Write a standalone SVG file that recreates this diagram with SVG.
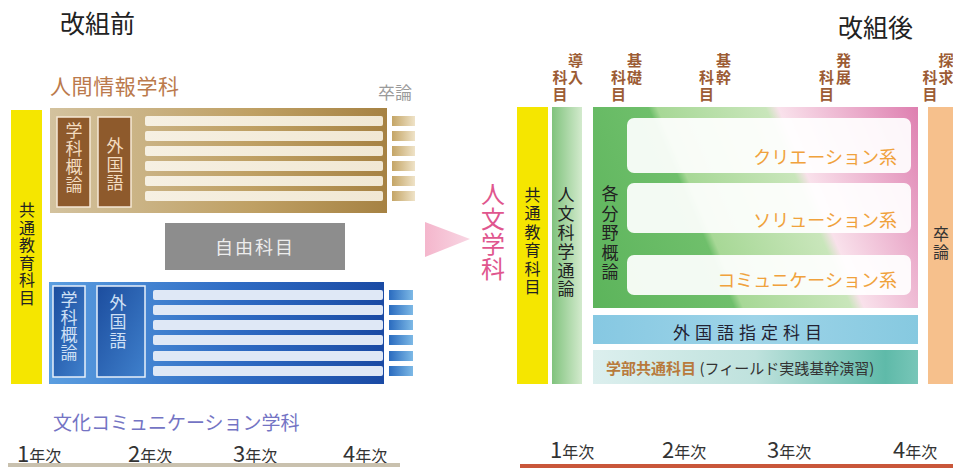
<svg xmlns="http://www.w3.org/2000/svg" width="953" height="468" viewBox="0 0 953 468">
<defs>
  <linearGradient id="gBrown" x1="0" y1="0" x2="1" y2="0">
    <stop offset="0" stop-color="#d3c29e"/>
    <stop offset="0.6" stop-color="#bfa064"/>
    <stop offset="1" stop-color="#a68243"/>
  </linearGradient>
  <linearGradient id="gBrownSq" x1="0" y1="0" x2="1" y2="0">
    <stop offset="0" stop-color="#c4a566"/>
    <stop offset="1" stop-color="#efe3c8"/>
  </linearGradient>
  <linearGradient id="gCream" x1="0" y1="0" x2="1" y2="0">
    <stop offset="0" stop-color="#f6f0e2"/>
    <stop offset="1" stop-color="#f1e8d4"/>
  </linearGradient>
  <linearGradient id="gBlue" x1="0" y1="0" x2="1" y2="0">
    <stop offset="0" stop-color="#5b9ee0"/>
    <stop offset="0.55" stop-color="#2f6cc4"/>
    <stop offset="1" stop-color="#1a4aa4"/>
  </linearGradient>
  <linearGradient id="gBlueIn" x1="0" y1="0" x2="1" y2="1">
    <stop offset="0" stop-color="#1c4d9e"/>
    <stop offset="1" stop-color="#3f80cc"/>
  </linearGradient>
  <linearGradient id="gBlueSq" x1="0" y1="0" x2="1" y2="0">
    <stop offset="0" stop-color="#2a6bbf"/>
    <stop offset="1" stop-color="#7db9e6"/>
  </linearGradient>
  <linearGradient id="gPink" x1="0" y1="0" x2="1" y2="0">
    <stop offset="0" stop-color="#f4b6cc"/>
    <stop offset="1" stop-color="#f8d6e3"/>
  </linearGradient>
  <linearGradient id="gJinbun" x1="0" y1="0" x2="1" y2="0">
    <stop offset="0" stop-color="#80c37d"/>
    <stop offset="1" stop-color="#d3eacd"/>
  </linearGradient>
  <linearGradient id="gMain" gradientUnits="userSpaceOnUse" x1="507" y1="107" x2="853.9" y2="-42.2">
    <stop offset="0" stop-color="#5cb45b"/>
    <stop offset="0.343" stop-color="#6fbf6b"/>
    <stop offset="0.365" stop-color="#a7d896"/>
    <stop offset="0.628" stop-color="#c9e6bb"/>
    <stop offset="0.659" stop-color="#f9e1eb"/>
    <stop offset="1" stop-color="#de7fb0"/>
  </linearGradient>
  <linearGradient id="gTeal" x1="0" y1="0" x2="1" y2="0">
    <stop offset="0" stop-color="#dcefee"/>
    <stop offset="0.5" stop-color="#bfe2dd"/>
    <stop offset="0.9" stop-color="#5fbaa9"/>
    <stop offset="1" stop-color="#78c6b8"/>
  </linearGradient>
  <linearGradient id="gSky" x1="0" y1="0" x2="1" y2="0">
    <stop offset="0" stop-color="#86c8e2"/>
    <stop offset="0.5" stop-color="#9ed4e8"/>
    <stop offset="1" stop-color="#86c9e0"/>
  </linearGradient>
</defs>
<style>
  text { font-family: "Noto Sans CJK JP", "Noto Sans", sans-serif; }
  .v { text-anchor: middle; }
  .title { font-size: 25px; fill: #222; }
  .hd { font-size: 15px; font-weight: bold; fill: #9c5c34; text-anchor: middle; }
  .yr { fill: #333; }
  .stB { fill: url(#gCream); }
  .sqB { fill: url(#gBrownSq); }
  .stL { fill: #dfe8f6; }
  .sqL { fill: url(#gBlueSq); }
  .wbox { fill: #ffffff; fill-opacity: 0.92; }
  .kei { font-size: 18px; fill: #f0a23c; text-anchor: end; }
</style>
<rect width="953" height="468" fill="#ffffff"/>

<!-- BEFORE -->
<g id="title-before"><text class="title" x="60" y="33">改組前</text></g>

<g id="kyotsu-before">
  <rect x="11" y="110" width="31" height="274" fill="#f5e600"/>
  <text class="v" font-size="16" fill="#222">
    <tspan x="27" y="216">共</tspan><tspan x="27" y="233.6">通</tspan><tspan x="27" y="251.2">教</tspan><tspan x="27" y="268.8">育</tspan><tspan x="27" y="286.4">科</tspan><tspan x="27" y="304">目</tspan>
  </text>
</g>

<g id="ningen-joho">
  <text x="50" y="94" font-size="21" letter-spacing="0.6" fill="#bb7a4c">人間情報学科</text>
  <rect x="50" y="108" width="337" height="105" fill="url(#gBrown)"/>
  <rect x="57" y="117" width="33" height="90" fill="#8e5a2c" stroke="#f6e9d6" stroke-width="1.5"/>
  <text class="v" font-size="17" fill="#f3dcc0">
    <tspan x="74" y="137">学</tspan><tspan x="74" y="155">科</tspan><tspan x="74" y="173">概</tspan><tspan x="74" y="191">論</tspan>
  </text>
  <rect x="98" y="117" width="33" height="90" fill="#8e5a2c" stroke="#f6e9d6" stroke-width="1.5"/>
  <text class="v" font-size="17" fill="#f3dcc0">
    <tspan x="115" y="152">外</tspan><tspan x="115" y="171">国</tspan><tspan x="115" y="189">語</tspan>
  </text>
  <rect class="stB" x="145" y="116" width="238" height="10" rx="2"/>
  <rect class="stB" x="145" y="131" width="238" height="10" rx="2"/>
  <rect class="stB" x="145" y="146" width="238" height="10" rx="2"/>
  <rect class="stB" x="145" y="161" width="238" height="10" rx="2"/>
  <rect class="stB" x="145" y="176" width="238" height="10" rx="2"/>
  <rect class="stB" x="145" y="191" width="238" height="10" rx="2"/>
</g>

<g id="sotsuron-before">
  <text x="378" y="99" font-size="17" fill="#9a9a9a">卒論</text>
  <rect class="sqB" x="392" y="116" width="23" height="10"/>
  <rect class="sqB" x="392" y="131" width="23" height="10"/>
  <rect class="sqB" x="392" y="146" width="23" height="10"/>
  <rect class="sqB" x="392" y="161" width="23" height="10"/>
  <rect class="sqB" x="392" y="176" width="23" height="10"/>
  <rect class="sqB" x="392" y="191" width="23" height="10"/>
  <rect class="sqL" x="389" y="290" width="24" height="10"/>
  <rect class="sqL" x="389" y="305" width="24" height="10"/>
  <rect class="sqL" x="389" y="320" width="24" height="10"/>
  <rect class="sqL" x="389" y="335" width="24" height="10"/>
  <rect class="sqL" x="389" y="351" width="24" height="10"/>
  <rect class="sqL" x="389" y="366" width="24" height="10"/>
</g>

<g id="jiyu-kamoku">
  <rect x="165" y="223" width="180" height="47" fill="#8d8d8d"/>
  <text x="255" y="254" font-size="18" letter-spacing="2" text-anchor="middle" fill="#ececec">自由科目</text>
</g>

<g id="bunka-comm">
  <rect x="49" y="282" width="335" height="102" fill="url(#gBlue)"/>
  <rect x="53" y="286" width="32" height="91" fill="url(#gBlueIn)" stroke="#e8f0fa" stroke-width="1.5"/>
  <text class="v" font-size="17" fill="#cfe0f5">
    <tspan x="69" y="306">学</tspan><tspan x="69" y="323.5">科</tspan><tspan x="69" y="341">概</tspan><tspan x="69" y="358.5">論</tspan>
  </text>
  <rect x="97" y="286" width="48" height="91" fill="url(#gBlueIn)" stroke="#e8f0fa" stroke-width="1.5"/>
  <text class="v" font-size="17" fill="#cfe0f5">
    <tspan x="118" y="309">外</tspan><tspan x="118" y="328">国</tspan><tspan x="118" y="347">語</tspan>
  </text>
  <rect class="stL" x="153" y="290" width="230" height="10" rx="2"/>
  <rect class="stL" x="153" y="305" width="230" height="10" rx="2"/>
  <rect class="stL" x="153" y="320" width="230" height="10" rx="2"/>
  <rect class="stL" x="153" y="335" width="230" height="10" rx="2"/>
  <rect class="stL" x="153" y="351" width="230" height="10" rx="2"/>
  <rect class="stL" x="153" y="366" width="230" height="10" rx="2"/>
  <text x="53" y="430" font-size="19" fill="#7474c4">文化コミュニケーション学科</text>
</g>

<g id="years-before">
  <text class="yr" x="17" y="462"><tspan font-size="22">1</tspan><tspan font-size="16">年次</tspan></text>
  <text class="yr" x="128" y="462"><tspan font-size="22">2</tspan><tspan font-size="16">年次</tspan></text>
  <text class="yr" x="233" y="462"><tspan font-size="22">3</tspan><tspan font-size="16">年次</tspan></text>
  <text class="yr" x="343" y="462"><tspan font-size="22">4</tspan><tspan font-size="16">年次</tspan></text>
  <rect x="8" y="463" width="392" height="4" fill="#c9c1ae"/>
</g>

<!-- CONNECTOR -->
<g id="connectors">
  <polygon points="425,222 470,239 425,257" fill="url(#gPink)"/>
</g>

<!-- AFTER -->
<g id="title-after"><text class="title" x="838" y="37">改組後</text></g>

<g id="jinbun-gakka">
  <text class="v" font-size="24" fill="#e0568e">
    <tspan x="493" y="203">人</tspan><tspan x="493" y="228">文</tspan><tspan x="493" y="253">学</tspan><tspan x="493" y="278">科</tspan>
  </text>
</g>

<g id="headers">
  <text class="hd"><tspan x="575.5" y="66">導</tspan><tspan x="575.5" y="83">入</tspan><tspan x="560" y="83">科</tspan><tspan x="560" y="100">目</tspan></text>
  <text class="hd"><tspan x="634.5" y="66">基</tspan><tspan x="634.5" y="83">礎</tspan><tspan x="618.5" y="83">科</tspan><tspan x="618.5" y="100">目</tspan></text>
  <text class="hd"><tspan x="723.5" y="66">基</tspan><tspan x="723.5" y="83">幹</tspan><tspan x="706.5" y="83">科</tspan><tspan x="706.5" y="100">目</tspan></text>
  <text class="hd"><tspan x="843.5" y="66">発</tspan><tspan x="843.5" y="83">展</tspan><tspan x="826.5" y="83">科</tspan><tspan x="826.5" y="100">目</tspan></text>
  <text class="hd"><tspan x="946" y="66">探</tspan><tspan x="946" y="83">求</tspan><tspan x="930" y="83">科</tspan><tspan x="930" y="100">目</tspan></text>
</g>

<g id="kyotsu-after">
  <rect x="517" y="107" width="31" height="277" fill="#f5e600"/>
  <text class="v" font-size="16" fill="#222">
    <tspan x="532.5" y="201">共</tspan><tspan x="532.5" y="219.4">通</tspan><tspan x="532.5" y="237.8">教</tspan><tspan x="532.5" y="256.2">育</tspan><tspan x="532.5" y="274.6">科</tspan><tspan x="532.5" y="293">目</tspan>
  </text>
</g>

<g id="jinbun-tsuron">
  <rect x="552" y="107" width="30" height="277" fill="url(#gJinbun)"/>
  <text class="v" font-size="17" fill="#222">
    <tspan x="566" y="201">人</tspan><tspan x="566" y="220">文</tspan><tspan x="566" y="239">科</tspan><tspan x="566" y="258">学</tspan><tspan x="566" y="277">通</tspan><tspan x="566" y="295">論</tspan>
  </text>
</g>

<g id="senmon">
  <rect x="593" y="107" width="325" height="201" fill="url(#gMain)"/>
  <text class="v" font-size="17" fill="#222">
    <tspan x="610" y="200">各</tspan><tspan x="610" y="219.5">分</tspan><tspan x="610" y="239">野</tspan><tspan x="610" y="258.5">概</tspan><tspan x="610" y="278">論</tspan>
  </text>
</g>

<g id="creation">
  <rect class="wbox" x="627" y="118" width="284" height="55" rx="7"/>
  <text class="kei" x="897" y="164">クリエーション系</text>
</g>
<g id="solution">
  <rect class="wbox" x="627" y="183" width="284" height="50" rx="7"/>
  <text class="kei" x="897" y="227">ソリューション系</text>
</g>
<g id="communication">
  <rect class="wbox" x="627" y="255" width="284" height="40" rx="7"/>
  <text class="kei" x="897" y="287">コミュニケーション系</text>
</g>

<g id="gaikokugo-shitei">
  <rect x="593" y="315" width="325" height="29" fill="url(#gSky)"/>
  <text x="750" y="339" font-size="17" letter-spacing="5" text-anchor="middle" fill="#223">外国語指定科目</text>
</g>

<g id="gakubu-kyotsu">
  <rect x="593" y="350" width="325" height="34" fill="url(#gTeal)"/>
  <text x="606" y="374"><tspan font-size="15" font-weight="bold" fill="#b87a3c">学部共通科目</tspan><tspan font-size="15" fill="#333"> (フィールド実践基幹演習)</tspan></text>
</g>

<g id="sotsuron-after">
  <rect x="928" y="107" width="25" height="277" fill="#f6c08c"/>
  <text class="v" font-size="16" fill="#333">
    <tspan x="941" y="240">卒</tspan><tspan x="941" y="258">論</tspan>
  </text>
</g>

<g id="years-after">
  <text class="yr" x="550" y="458"><tspan font-size="22">1</tspan><tspan font-size="16">年次</tspan></text>
  <text class="yr" x="662" y="458"><tspan font-size="22">2</tspan><tspan font-size="16">年次</tspan></text>
  <text class="yr" x="767" y="458"><tspan font-size="22">3</tspan><tspan font-size="16">年次</tspan></text>
  <text class="yr" x="893" y="458"><tspan font-size="22">4</tspan><tspan font-size="16">年次</tspan></text>
  <rect x="520" y="464" width="433" height="4" fill="#c9573a"/>
</g>
</svg>
